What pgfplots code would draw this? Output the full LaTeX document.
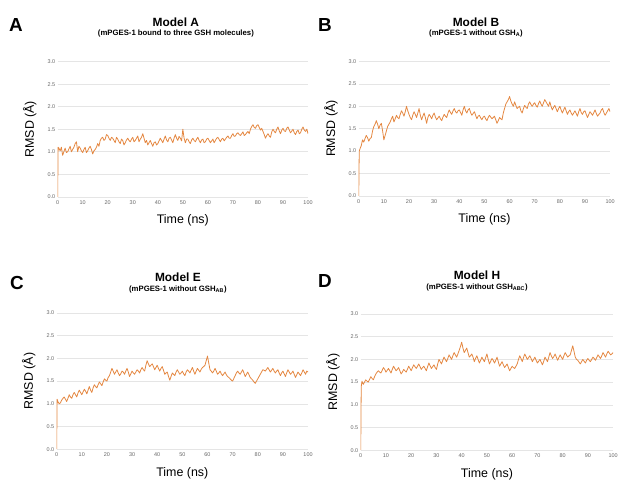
\documentclass[border=0pt]{standalone}
\usepackage{fontspec}
\setmainfont{Liberation Sans}
\usepackage{pgfplots}
\pgfplotsset{compat=1.18}

\definecolor{rmsd}{RGB}{228,135,65}

\pgfplotsset{
  rmsdaxis/.style={
    scale only axis,
    xmin=0, xmax=100, ymin=0, ymax=3,
    xtick={0,10,...,100}, ytick={0,0.5,...,3},
    yticklabel style={/pgf/number format/fixed, /pgf/number format/precision=1,
      /pgf/number format/fixed zerofill, xshift=1pt},
    /pgf/number format/assume math mode=true,
    tick label style={font=\fontsize{5.5}{6}\selectfont, text=black!60},
    major tick length=0pt,
    axis line style={draw=none},
    ymajorgrids, grid style={black!10, line width=0.5pt},
    every axis x label/.style={at={(axis description cs:0.5,0)}, yshift=-24pt, anchor=center},
    every axis y label/.style={at={(axis description cs:0,0.5)}, xshift=-28pt, rotate=90, anchor=center},
    label style={font=\fontsize{12.5}{14}\selectfont},
    xlabel={Time (ns)}, ylabel={RMSD (Å)},
  },
  rmsdline/.style={rmsd, line width=0.8pt, line join=round},
}

\begin{document}
\begin{tikzpicture}
\path (0pt,0pt) rectangle (621pt,-486pt);

% Panel A
\begin{axis}[rmsdaxis, at={(58pt,-198pt)}, anchor=south west, width=252pt, height=136pt]
\addplot[rmsdline] coordinates {
(0,0)(0.2,1.1)(0.5,1.08)(1,1.02)(1.5,1.1)(2,0.92)(2.5,1.0)(3,1.08)(3.5,0.98)(4,1.0)(4.5,1.06)(5,1.12)
(5.5,1.0)(6,1.05)(6.5,1.1)(7,1.18)(7.5,1.22)(8,1.0)(8.5,1.12)(9,1.08)(9.5,1.02)(10,0.98)
(10.5,1.05)(11,1.1)(11.5,0.98)(12,1.02)(12.5,1.08)(13,1.12)(13.5,1.05)(14,0.95)(14.5,1.02)(15,1.05)
(15.5,1.1)(16,1.18)(16.5,1.12)(17,1.25)(17.5,1.3)(18,1.32)(18.5,1.25)(19,1.28)(19.5,1.38)(20,1.36)
(20.5,1.3)(21,1.25)(21.5,1.32)(22,1.3)(22.5,1.25)(23,1.2)(23.5,1.32)(24,1.28)(24.5,1.22)(25,1.18)
(25.5,1.28)(26,1.25)(26.5,1.15)(27,1.2)(27.5,1.26)(28,1.3)(28.5,1.25)(29,1.22)(29.5,1.28)(30,1.32)
(30.5,1.22)(31,1.25)(31.5,1.3)(32,1.35)(32.5,1.22)(33,1.28)(33.5,1.32)(34,1.4)(34.5,1.3)(35,1.2)
(35.5,1.25)(36,1.15)(36.5,1.2)(37,1.25)(37.5,1.18)(38,1.12)(38.5,1.2)(39,1.22)(39.5,1.15)(40,1.18)
(40.5,1.24)(41,1.3)(41.5,1.25)(42,1.2)(42.5,1.28)(43,1.35)(43.5,1.26)(44,1.22)(44.5,1.3)(45,1.32)
(45.5,1.26)(46,1.2)(46.5,1.3)(47,1.38)(47.5,1.3)(48,1.25)(48.5,1.34)(49,1.3)(49.5,1.24)(50,1.5)
(50.5,1.3)(51,1.2)(51.5,1.28)(52,1.28)(52.5,1.22)(53,1.18)(53.5,1.26)(54,1.3)(54.5,1.25)(55,1.22)
(55.5,1.28)(56,1.32)(56.5,1.25)(57,1.2)(57.5,1.26)(58,1.28)(58.5,1.2)(59,1.22)(59.5,1.28)(60,1.3)
(60.5,1.25)(61,1.2)(61.5,1.24)(62,1.28)(62.5,1.2)(63,1.25)(63.5,1.3)(64,1.32)(64.5,1.27)(65,1.22)
(65.5,1.28)(66,1.3)(66.5,1.24)(67,1.28)(67.5,1.32)(68,1.35)(68.5,1.3)(69,1.3)(69.5,1.36)(70,1.4)
(70.5,1.34)(71,1.35)(71.5,1.4)(72,1.42)(72.5,1.38)(73,1.36)(73.5,1.4)(74,1.44)(74.5,1.36)(75,1.38)
(75.5,1.42)(76,1.45)(76.5,1.4)(77,1.5)(77.5,1.56)(78,1.6)(78.5,1.54)(79,1.52)(79.5,1.58)(80,1.6)
(80.5,1.54)(81,1.48)(81.5,1.52)(82,1.45)(82.5,1.38)(83,1.3)(83.5,1.36)(84,1.4)(84.5,1.35)(85,1.32)
(85.5,1.44)(86,1.5)(86.5,1.45)(87,1.42)(87.5,1.5)(88,1.55)(88.5,1.46)(89,1.4)(89.5,1.48)(90,1.52)
(90.5,1.46)(91,1.45)(91.5,1.52)(92,1.55)(92.5,1.48)(93,1.42)(93.5,1.46)(94,1.5)(94.5,1.42)(95,1.38)
(95.5,1.45)(96,1.48)(96.5,1.4)(97,1.42)(97.5,1.5)(98,1.55)(98.5,1.48)(99,1.45)(99.5,1.5)(100,1.4)
};
\end{axis}

% Panel B
\begin{axis}[rmsdaxis, at={(361pt,-197pt)}, anchor=south west, width=253pt, height=135pt]
\addplot[rmsdline] coordinates {
(0,0)(0.2,1.0)(0.5,1.05)(1,1.12)(1.5,1.25)(2,1.2)(2.5,1.28)(3,1.35)(3.5,1.3)(4,1.22)(4.5,1.28)(5,1.3)
(5.5,1.45)(6,1.55)(6.5,1.6)(7,1.68)(7.5,1.6)(8,1.5)(8.5,1.58)(9,1.62)(9.5,1.45)(10,1.25)
(10.5,1.35)(11,1.45)(11.5,1.55)(12,1.6)(12.5,1.65)(13,1.72)(13.5,1.78)(14,1.65)(14.5,1.72)(15,1.8)
(15.5,1.75)(16,1.72)(16.5,1.82)(17,1.9)(17.5,1.85)(18,1.78)(18.5,1.88)(19,2.0)(19.5,1.9)(20,1.82)
(20.5,1.75)(21,1.7)(21.5,1.8)(22,1.88)(22.5,1.82)(23,1.75)(23.5,1.85)(24,1.95)(24.5,1.8)(25,1.7)
(25.5,1.78)(26,1.85)(26.5,1.75)(27,1.62)(27.5,1.75)(28,1.82)(28.5,1.78)(29,1.72)(29.5,1.8)(30,1.85)
(30.5,1.76)(31,1.7)(31.5,1.74)(32,1.78)(32.5,1.72)(33,1.68)(33.5,1.76)(34,1.82)(34.5,1.78)(35,1.75)
(35.5,1.85)(36,1.92)(36.5,1.86)(37,1.82)(37.5,1.9)(38,1.95)(38.5,1.88)(39,1.85)(39.5,1.9)(40,1.92)
(40.5,1.86)(41,1.8)(41.5,1.92)(42,2.0)(42.5,1.9)(43,1.85)(43.5,1.92)(44,1.95)(44.5,1.86)(45,1.8)
(45.5,1.84)(46,1.88)(46.5,1.8)(47,1.72)(47.5,1.78)(48,1.8)(48.5,1.74)(49,1.7)(49.5,1.76)(50,1.78)
(50.5,1.72)(51,1.68)(51.5,1.75)(52,1.8)(52.5,1.76)(53,1.72)(53.5,1.75)(54,1.78)(54.5,1.7)(55,1.62)
(55.5,1.68)(56,1.75)(56.5,1.72)(57,1.7)(57.5,1.85)(58,1.95)(58.5,2.05)(59,2.1)(59.5,2.15)(60,2.22)
(60.5,2.12)(61,2.05)(61.5,2.0)(62,2.1)(62.5,2.02)(63,1.95)(63.5,1.98)(64,2.0)(64.5,1.9)(65,1.85)
(65.5,1.95)(66,2.02)(66.5,1.98)(67,1.95)(67.5,2.05)(68,2.1)(68.5,2.04)(69,2.0)(69.5,2.05)(70,2.08)
(70.5,2.02)(71,1.98)(71.5,2.06)(72,2.12)(72.5,2.05)(73,2.0)(73.5,2.08)(74,2.15)(74.5,2.1)(75,2.05)
(75.5,2.0)(76,2.1)(76.5,2.0)(77,1.92)(77.5,1.98)(78,2.02)(78.5,1.95)(79,1.88)(79.5,1.95)(80,2.0)
(80.5,1.92)(81,1.85)(81.5,1.92)(82,1.98)(82.5,1.9)(83,1.82)(83.5,1.88)(84,1.92)(84.5,1.85)(85,1.8)
(85.5,1.85)(86,1.9)(86.5,1.84)(87,1.78)(87.5,1.88)(88,1.95)(88.5,1.86)(89,1.82)(89.5,1.88)(90,1.9)
(90.5,1.82)(91,1.75)(91.5,1.82)(92,1.88)(92.5,1.84)(93,1.8)(93.5,1.86)(94,1.92)(94.5,1.84)(95,1.78)
(95.5,1.82)(96,1.85)(96.5,1.92)(97,1.95)(97.5,1.86)(98,1.8)(98.5,1.85)(99,1.9)(99.5,1.95)(100,1.88)
};
\end{axis}

% Panel C
\begin{axis}[rmsdaxis, at={(57pt,-452pt)}, anchor=south west, width=253pt, height=137pt]
\addplot[rmsdline] coordinates {
(0,0)(0.2,1.1)(0.5,1.05)(1,1.0)(1.5,1.02)(2,1.08)(2.5,1.12)(3,1.15)(3.5,1.1)(4,1.05)(4.5,1.12)(5,1.2)
(5.5,1.15)(6,1.12)(6.5,1.2)(7,1.25)(7.5,1.2)(8,1.15)(8.5,1.24)(9,1.3)(9.5,1.25)(10,1.2)
(10.5,1.26)(11,1.32)(11.5,1.28)(12,1.22)(12.5,1.3)(13,1.38)(13.5,1.3)(14,1.25)(14.5,1.35)(15,1.42)
(15.5,1.38)(16,1.35)(16.5,1.42)(17,1.48)(17.5,1.44)(18,1.4)(18.5,1.48)(19,1.55)(19.5,1.52)(20,1.5)
(20.5,1.58)(21,1.62)(21.5,1.7)(22,1.78)(22.5,1.72)(23,1.65)(23.5,1.7)(24,1.75)(24.5,1.68)(25,1.62)
(25.5,1.66)(26,1.72)(26.5,1.7)(27,1.65)(27.5,1.72)(28,1.78)(28.5,1.7)(29,1.6)(29.5,1.66)(30,1.72)
(30.5,1.68)(31,1.65)(31.5,1.7)(32,1.75)(32.5,1.72)(33,1.68)(33.5,1.75)(34,1.8)(34.5,1.75)(35,1.72)
(35.5,1.85)(36,1.95)(36.5,1.88)(37,1.82)(37.5,1.85)(38,1.88)(38.5,1.82)(39,1.75)(39.5,1.8)(40,1.85)
(40.5,1.78)(41,1.72)(41.5,1.78)(42,1.82)(42.5,1.74)(43,1.65)(43.5,1.68)(44,1.7)(44.5,1.6)(45,1.52)
(45.5,1.6)(46,1.68)(46.5,1.65)(47,1.62)(47.5,1.7)(48,1.75)(48.5,1.7)(49,1.65)(49.5,1.68)(50,1.72)
(50.5,1.66)(51,1.62)(51.5,1.7)(52,1.75)(52.5,1.72)(53,1.68)(53.5,1.74)(54,1.8)(54.5,1.72)(55,1.65)
(55.5,1.72)(56,1.78)(56.5,1.74)(57,1.7)(57.5,1.76)(58,1.8)(58.5,1.82)(59,1.85)(59.5,1.95)(60,2.05)
(60.5,1.9)(61,1.75)(61.5,1.72)(62,1.68)(62.5,1.72)(63,1.78)(63.5,1.72)(64,1.65)(64.5,1.68)(65,1.72)
(65.5,1.66)(66,1.62)(66.5,1.66)(67,1.7)(67.5,1.64)(68,1.6)(68.5,1.58)(69,1.55)(69.5,1.52)(70,1.5)
(70.5,1.56)(71,1.62)(71.5,1.68)(72,1.72)(72.5,1.68)(73,1.65)(73.5,1.7)(74,1.75)(74.5,1.68)(75,1.6)
(75.5,1.65)(76,1.7)(76.5,1.64)(77,1.58)(77.5,1.55)(78,1.52)(78.5,1.48)(79,1.45)(79.5,1.5)(80,1.55)
(80.5,1.6)(81,1.65)(81.5,1.7)(82,1.75)(82.5,1.74)(83,1.72)(83.5,1.76)(84,1.8)(84.5,1.75)(85,1.7)
(85.5,1.74)(86,1.78)(86.5,1.72)(87,1.68)(87.5,1.72)(88,1.75)(88.5,1.68)(89,1.62)(89.5,1.68)(90,1.72)
(90.5,1.66)(91,1.6)(91.5,1.68)(92,1.75)(92.5,1.7)(93,1.65)(93.5,1.68)(94,1.72)(94.5,1.65)(95,1.58)
(95.5,1.64)(96,1.7)(96.5,1.66)(97,1.62)(97.5,1.68)(98,1.75)(98.5,1.7)(99,1.65)(99.5,1.72)(100,1.7)
};
\end{axis}

% Panel D
\begin{axis}[rmsdaxis, at={(363pt,-453pt)}, anchor=south west, width=254pt, height=137pt]
\addplot[rmsdline] coordinates {
(0,0)(0.2,1.4)(0.5,1.52)(1,1.45)(1.5,1.5)(2,1.55)(2.5,1.52)(3,1.5)(3.5,1.56)(4,1.62)(4.5,1.58)(5,1.55)
(5.5,1.62)(6,1.68)(6.5,1.72)(7,1.75)(7.5,1.72)(8,1.7)(8.5,1.76)(9,1.82)(9.5,1.78)(10,1.72)
(10.5,1.76)(11,1.8)(11.5,1.75)(12,1.7)(12.5,1.78)(13,1.85)(13.5,1.8)(14,1.75)(14.5,1.78)(15,1.82)
(15.5,1.75)(16,1.68)(16.5,1.72)(17,1.78)(17.5,1.75)(18,1.72)(18.5,1.78)(19,1.85)(19.5,1.8)(20,1.75)
(20.5,1.82)(21,1.88)(21.5,1.84)(22,1.8)(22.5,1.85)(23,1.9)(23.5,1.84)(24,1.78)(24.5,1.82)(25,1.85)
(25.5,1.8)(26,1.75)(26.5,1.84)(27,1.92)(27.5,1.86)(28,1.8)(28.5,1.84)(29,1.88)(29.5,1.82)(30,1.78)
(30.5,1.9)(31,2.0)(31.5,1.95)(32,1.9)(32.5,1.98)(33,2.05)(33.5,2.0)(34,1.95)(34.5,2.02)(35,2.1)
(35.5,2.05)(36,2.0)(36.5,2.08)(37,2.15)(37.5,2.1)(38,2.05)(38.5,2.12)(39,2.2)(39.5,2.28)(40,2.38)
(40.5,2.25)(41,2.15)(41.5,2.2)(42,2.25)(42.5,2.15)(43,2.05)(43.5,2.08)(44,2.12)(44.5,2.05)(45,1.95)
(45.5,2.02)(46,2.08)(46.5,2.0)(47,1.92)(47.5,1.98)(48,2.05)(48.5,2.0)(49,1.95)(49.5,2.04)(50,2.12)
(50.5,2.0)(51,1.9)(51.5,1.96)(52,2.02)(52.5,1.98)(53,1.92)(53.5,1.98)(54,2.05)(54.5,1.95)(55,1.85)
(55.5,1.9)(56,1.95)(56.5,1.88)(57,1.82)(57.5,1.86)(58,1.9)(58.5,1.82)(59,1.75)(59.5,1.8)(60,1.85)
(60.5,1.82)(61,1.8)(61.5,1.85)(62,1.9)(62.5,2.0)(63,2.08)(63.5,2.02)(64,1.95)(64.5,2.04)(65,2.12)
(65.5,2.06)(66,2.0)(66.5,2.04)(67,2.08)(67.5,2.02)(68,1.95)(68.5,2.0)(69,2.05)(69.5,1.98)(70,1.92)
(70.5,1.96)(71,2.0)(71.5,1.94)(72,1.88)(72.5,1.96)(73,2.05)(73.5,2.0)(74,1.95)(74.5,2.05)(75,2.15)
(75.5,2.08)(76,2.02)(76.5,2.06)(77,2.12)(77.5,2.05)(78,1.98)(78.5,2.04)(79,2.1)(79.5,2.05)(80,2.0)
(80.5,2.08)(81,2.15)(81.5,2.1)(82,2.05)(82.5,2.08)(83,2.1)(83.5,2.2)(84,2.3)(84.5,2.18)(85,2.05)
(85.5,2.0)(86,1.98)(86.5,1.94)(87,1.9)(87.5,1.95)(88,2.0)(88.5,1.96)(89,1.92)(89.5,1.98)(90,2.02)
(90.5,1.98)(91,1.95)(91.5,2.0)(92,2.05)(92.5,2.02)(93,1.98)(93.5,2.04)(94,2.1)(94.5,2.06)(95,2.02)
(95.5,2.08)(96,2.15)(96.5,2.1)(97,2.05)(97.5,2.12)(98,2.18)(98.5,2.14)(99,2.1)(99.5,2.12)(100,2.15)
};
\end{axis}

% titles and panel letters
\node[font=\fontsize{19}{20}\bfseries] at (16pt,-25pt) {A};
\node[font=\fontsize{19}{20}\bfseries] at (327pt,-25pt) {B};
\node[font=\fontsize{19}{20}\bfseries] at (17pt,-285pt) {C};
\node[font=\fontsize{19}{20}\bfseries] at (327pt,-283pt) {D};
\node[font=\fontsize{12}{13}\bfseries] at (177pt,-22pt) {Model A};
\node[font=\fontsize{7.8}{8}\bfseries] at (177pt,-34pt) {(mPGES-1 bound to three GSH molecules)};
\node[font=\fontsize{12}{13}\bfseries] at (479pt,-22pt) {Model B};
\node[font=\fontsize{7.8}{8}\bfseries] at (479pt,-34pt) {(mPGES-1 without GSH\textsubscript{A})};
\node[font=\fontsize{12}{13}\bfseries] at (179pt,-279pt) {Model E};
\node[font=\fontsize{7.8}{8}\bfseries] at (179pt,-291pt) {(mPGES-1 without GSH\textsubscript{AB})};
\node[font=\fontsize{12}{13}\bfseries] at (480pt,-277pt) {Model H};
\node[font=\fontsize{7.8}{8}\bfseries] at (480pt,-289pt) {(mPGES-1 without GSH\textsubscript{ABC})};
\end{tikzpicture}
\end{document}
